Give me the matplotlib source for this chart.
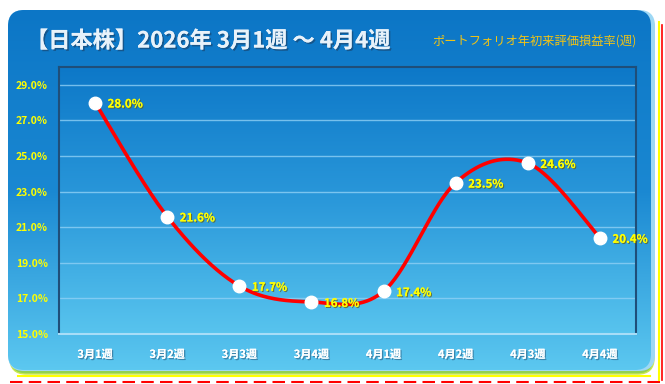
import numpy as np
import matplotlib
matplotlib.use("Agg")
import matplotlib.pyplot as plt
import matplotlib.patheffects as pe
from matplotlib.patches import FancyBboxPatch
from matplotlib.colors import LinearSegmentedColormap

plt.rcParams['font.family'] = ['Noto Sans CJK JP', 'DejaVu Sans']

# data
weeks = ['3月1週', '3月2週', '3月3週', '3月4週', '4月1週', '4月2週', '4月3週', '4月4週']
returns = [28.0, 21.6, 17.7, 16.8, 17.4, 23.5, 24.6, 20.4]
y_ticks = [15, 17, 19, 21, 23, 25, 27, 29]
title = '【日本株】2026年 3月1週 ～ 4月4週'
subtitle = 'ポートフォリオ年初来評価損益率(週)'

W, H = 665, 384
fig = plt.figure(figsize=(W / 100, H / 100), dpi=100)
fig.patch.set_facecolor('white')

# background panel in pixel coords
bg = fig.add_axes([0, 0, 1, 1])
bg.set_xlim(0, W)
bg.set_ylim(H, 0)
bg.axis('off')

blue_cmap = LinearSegmentedColormap.from_list('bl', ['#0C76C6', '#1A88D2', '#5CC8F0'])
grad = np.linspace(0, 1, 256).reshape(-1, 1)

# edge artefacts (green / yellow / red rims)
bg.plot([18, 650], [376, 376], color='#FFFF00', lw=1.5)
bg.plot([10, 660], [382, 382], color='#FF0000', lw=1.5, ls=(0, (6, 3)))
bg.plot([659, 659], [22, 380], color='#FFFF00', lw=1.5)
bg.plot([662, 662], [25, 380], color='#FF0000', lw=1.2)
rim = FancyBboxPatch((10, 12), 644, 362, boxstyle='round,pad=0,rounding_size=16',
                     fc='#92D050', ec='#C8E850', lw=1)
bg.add_patch(rim)
edge = FancyBboxPatch((8, 10), 647, 361, boxstyle='round,pad=0,rounding_size=16',
                      fc='#9ED8F5', ec='none')
bg.add_patch(edge)
panel = FancyBboxPatch((8, 10), 643, 360, boxstyle='round,pad=0,rounding_size=16',
                       fc='none', ec='none')
bg.add_patch(panel)
im = bg.imshow(grad, cmap=blue_cmap, aspect='auto', extent=(8, 651, 370, 10), zorder=1)
im.set_clip_path(panel)

shadow = [pe.withSimplePatchShadow(offset=(1.2, -1.2), shadow_rgbFace='#1B3A5C', alpha=0.55), pe.Normal()]
bg.text(26, 41, title, fontsize=16, fontweight='bold', color='#E8F2FA',
        va='center', ha='left', path_effects=shadow, zorder=3)
bg.text(432, 41, subtitle, fontsize=8.8, color='#F2C414', style='italic',
        va='center', ha='left', zorder=3)

# chart area
x0, x1, y0, y1 = 59, 636, 67, 334
ax = fig.add_axes([x0 / W, 1 - y1 / H, (x1 - x0) / W, (y1 - y0) / H])
ax.set_facecolor('none')
inner_cmap = LinearSegmentedColormap.from_list('in', ['#0D78C8', '#2A98DA', '#58C4EE'])
ax.imshow(grad, cmap=inner_cmap, aspect='auto', extent=(0, 1, 0, 1),
          transform=ax.transAxes, zorder=0)

x = np.arange(len(weeks))
y = np.array(returns)

# Excel-like smoothed line (Catmull-Rom through the points)
px = np.concatenate([[x[0]], x, [x[-1]]])
py = np.concatenate([[y[0]], y, [y[-1]]])
sx, sy = [], []
t = np.linspace(0, 1, 40)
for i in range(1, len(px) - 2):
    p0, p1, p2, p3 = (np.array([px[j], py[j]]) for j in range(i - 1, i + 3))
    c1 = p1 + (p2 - p0) / 6
    c2 = p2 - (p3 - p1) / 6
    b = ((1 - t) ** 3)[:, None] * p1 + (3 * (1 - t) ** 2 * t)[:, None] * c1 \
        + (3 * (1 - t) * t ** 2)[:, None] * c2 + (t ** 3)[:, None] * p2
    sx.extend(b[:, 0])
    sy.extend(b[:, 1])
ax.plot(sx, sy, color='#FF0000', lw=2.6, zorder=3, solid_capstyle='round')
ax.plot(x, y, 'o', color='white', ms=9, mec='white', zorder=4)

lab_fx = [pe.withSimplePatchShadow(offset=(0.8, -0.8), shadow_rgbFace='#6B5A00', alpha=0.7), pe.Normal()]
for xi, yi in zip(x, y):
    ax.annotate(f'{yi:.1f}%', (xi, yi), xytext=(9, -1), textcoords='offset points',
                ha='left', va='center', fontsize=8.3, fontweight='bold', color='#FFFF00',
                path_effects=lab_fx, zorder=5)

ax.set_xlim(-0.5, len(weeks) - 0.5)
ax.set_ylim(15, 30)
ax.set_yticks(y_ticks)
ax.set_yticklabels([f'{v:.1f}%' for v in y_ticks])
ax.set_xticks(x)
ax.set_xticklabels(weeks)
ax.grid(axis='y', color='#8FD0F5', lw=1, alpha=0.8, zorder=1)
ax.set_axisbelow(True)
ax.tick_params(length=0)
ax.tick_params(axis='y', pad=8, labelsize=7.5, labelcolor='#FFFF00')
ax.tick_params(axis='x', pad=10, labelsize=8, labelcolor='white')
for lbl in ax.get_yticklabels():
    lbl.set_fontweight('bold')
for lbl in ax.get_xticklabels():
    lbl.set_fontweight('bold')
    lbl.set_path_effects([pe.withSimplePatchShadow(offset=(1, -1), shadow_rgbFace='#2A5D80', alpha=0.6), pe.Normal()])
for s in ax.spines.values():
    s.set_color('#1F4E79')
    s.set_linewidth(1.5)
ax.spines['bottom'].set_color('#A8DDF7')

fig.savefig('out.png', dpi=100)
